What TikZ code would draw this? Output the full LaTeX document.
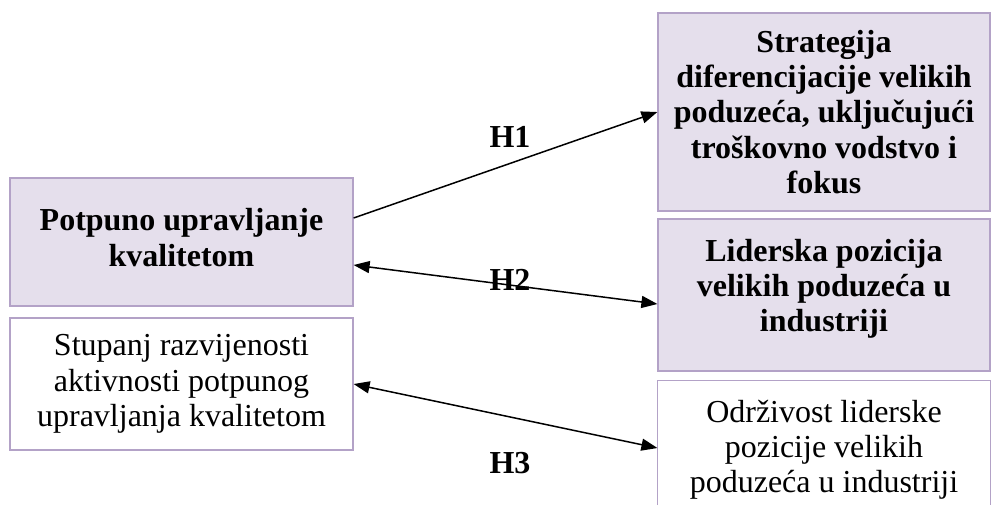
\documentclass[tikz,border=0pt]{standalone}
\usepackage{fontspec}
\setmainfont{Liberation Serif}
\usetikzlibrary{arrows.meta}
\definecolor{boxfill}{HTML}{E5DFEC}
\definecolor{boxline}{HTML}{B3A2C7}

\begin{document}
\begin{tikzpicture}[x=0.5pt, y=-0.5pt,
    box/.style={draw=boxline, line width=0.6pt, align=center, inner sep=2pt,
      font=\fontsize{16}{17.6}\selectfont},
    tinted/.style={box, fill=boxfill, font=\fontsize{16}{17.6}\selectfont\bfseries},
    hyp/.style={line width=0.75pt, -{Triangle[length=8pt,width=6pt]}},
    both/.style={hyp, {Triangle[length=8pt,width=6pt]}-{Triangle[length=8pt,width=6pt]}},
    hyplabel/.style={font=\fontsize{16}{17.6}\selectfont\bfseries}]
    \useasboundingbox (0,0) rectangle (991,505);
    \coordinate (bottom) at (0,505);

    % left side
    \node[tinted, minimum width=171.5pt, minimum height=64pt] (tqm) at (181.5,242)
      {\mbox{}\\[-11pt]Potpuno upravljanje\\kvalitetom};
    \node[box, minimum width=171.5pt, minimum height=66pt] (stupanj) at (181.5,384)
      {Stupanj razvijenosti\\aktivnosti potpunog\\upravljanja kvalitetom};

    % right side
    \node[tinted, minimum width=166pt, minimum height=99pt] (strategija) at (824,112)
      {Strategija\\diferencijacije velikih\\poduzeća, uključujući\\troškovno vodstvo i\\fokus};
    \node[tinted, minimum width=166pt, minimum height=76pt] (lider) at (824,295)
      {Liderska pozicija\\velikih poduzeća u\\industriji\\[-8pt]\mbox{}};
    \node[box, draw=none, minimum width=166pt, minimum height=69pt] (odrzivost) at (824,450)
      {Održivost liderske\\pozicije velikih\\poduzeća u industriji};
    \draw[boxline, line width=0.6pt] (odrzivost.north west |- bottom) -- (odrzivost.north west)
      -- (odrzivost.north east) -- (odrzivost.north east |- bottom);

    % hypotheses
    \draw[hyp] ([yshift=12pt]tqm.east) -- (strategija.west);
    \draw[both] ([yshift=-11.5pt]tqm.east) -- ([yshift=-4.5pt]lider.west);
    \draw[both] (stupanj.east) -- ([yshift=1pt]odrzivost.west);

    \node[hyplabel] (h1) at (510,137) {H1};
    \node[hyplabel] (h2) at (510,280) {H2};
    \node[hyplabel] (h3) at (510,463) {H3};
\end{tikzpicture}
\end{document}
